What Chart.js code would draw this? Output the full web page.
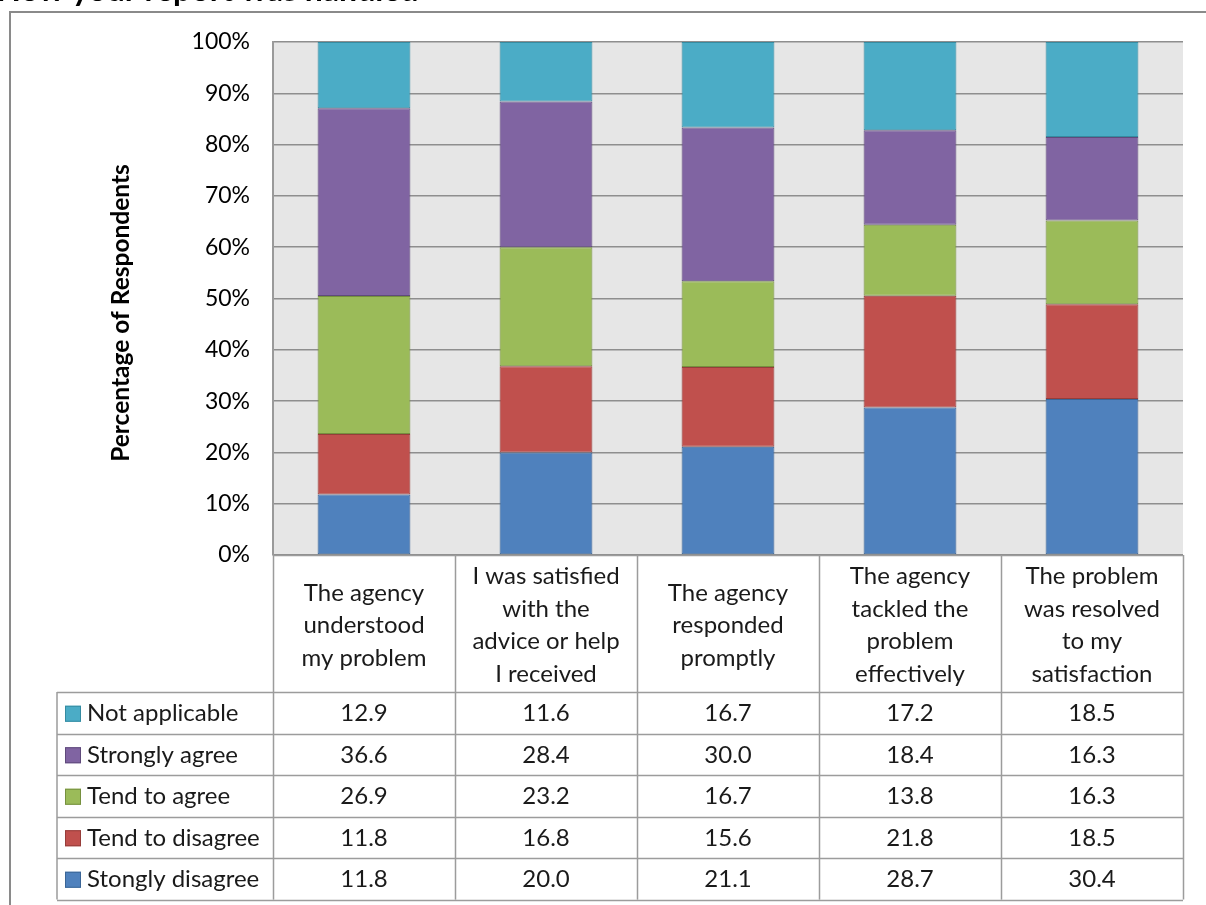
<!DOCTYPE html>
<html>
<head>
<meta charset="utf-8">
<script src="https://cdn.jsdelivr.net/npm/chart.js@4.4.0/dist/chart.umd.min.js"></script>
<style>
  html, body { margin: 0; padding: 0; background: #fff; }
  #wrap { width: 1206px; height: 905px; }
</style>
</head>
<body>
<div id="wrap"><canvas id="surveyChart" width="1206" height="905"></canvas></div>
<script>
// categories (lines of each wrapped label)
const categories = [
  ['The agency', 'understood', 'my problem'],
  ['I was satisfied', 'with the', 'advice or help', 'I received'],
  ['The agency', 'responded', 'promptly'],
  ['The agency', 'tackled the', 'problem', 'effectively'],
  ['The problem', 'was resolved', 'to my', 'satisfaction']
];

// series values, % of respondents
const stronglyDisagree = [11.8, 20.0, 21.1, 28.7, 30.4];
const tendToDisagree = [11.8, 16.8, 15.6, 21.8, 18.5];
const tendToAgree = [26.9, 23.2, 16.7, 13.8, 16.3];
const stronglyAgree = [36.6, 28.4, 30.0, 18.4, 16.3];
const notApplicable = [12.9, 11.6, 16.7, 17.2, 18.5];

const seriesNames = ['Stongly disagree', 'Tend to disagree', 'Tend to agree', 'Strongly agree', 'Not applicable'];
const seriesValues = [stronglyDisagree, tendToDisagree, tendToAgree, stronglyAgree, notApplicable];
const fillColors = ['#4F81BD', '#C0504D', '#9BBB59', '#8064A2', '#4BACC6'];
const edgeColors = ['#3A6596', '#963D3A', '#76903F', '#5F4A7B', '#358BA1'];

const yTickStep = 10;
const yAxisTitle = 'Percentage of Respondents';
const chartTitle = 'How your report was handled';

const FONT = 'Lato, "Open Sans", sans-serif';
const TEXT = '#1a1a1a';

// 100% stacked: each column scaled to its own total
const totals = categories.map((c, i) => seriesValues.reduce((s, arr) => s + arr[i], 0));

function makeDatasets() {
  return seriesNames.map((name, k) => ({
    label: name,
    data: seriesValues[k].map((v, i) => v / totals[i] * 100),
    backgroundColor: fillColors[k],
    borderColor: edgeColors[k],
    borderWidth: 1,
    borderSkipped: false,
    barPercentage: 0.51,
    categoryPercentage: 1
  }));
}

const plotBackground = {
  id: 'plotBackground',
  beforeDraw(chart) {
    const { ctx, chartArea: a } = chart;
    ctx.save();
    ctx.fillStyle = '#fff';
    ctx.fillRect(0, 0, chart.width, chart.height);
    ctx.fillStyle = '#e6e6e6';
    ctx.fillRect(a.left, a.top, a.right - a.left, a.bottom - a.top);
    ctx.restore();
  }
};

const dataTable = {
  id: 'dataTable',
  afterDraw(chart) {
    const { ctx, chartArea: a } = chart;
    const x = chart.scales.x;
    const half = (x.getPixelForValue(1) - x.getPixelForValue(0)) / 2;
    const headTop = a.bottom;
    const headBottom = 692;
    const rowH = 41.5;
    const legendLeft = 57;
    const rows = seriesNames.length;
    const tableBottom = headBottom + rows * rowH;

    ctx.save();

    // frame round the whole figure
    ctx.strokeStyle = '#8a8a8a';
    ctx.lineWidth = 2;
    ctx.beginPath();
    ctx.moveTo(chart.width + 2, 12);
    ctx.lineTo(10, 12);
    ctx.lineTo(10, chart.height + 2);
    ctx.stroke();

    // cut-off title at the very top
    ctx.fillStyle = '#000';
    ctx.font = 'bold 32px ' + FONT;
    ctx.textBaseline = 'alphabetic';
    ctx.textAlign = 'left';
    const lead = ctx.measureText('How ').width;
    ctx.fillText(chartTitle, 72 - lead, 1);

    // y axis title
    ctx.save();
    ctx.translate(121, 313);
    ctx.rotate(-Math.PI / 2);
    ctx.font = 'bold 24.5px ' + FONT;
    ctx.textAlign = 'center';
    ctx.textBaseline = 'middle';
    ctx.fillText(yAxisTitle, 0, 0);
    ctx.restore();

    // table grid
    ctx.strokeStyle = '#9c9c9c';
    ctx.lineWidth = 1.5;
    ctx.beginPath();
    for (let i = 0; i <= categories.length; i++) {
      const cx = Math.round(x.getPixelForValue(i) - half) + 0.5;
      ctx.moveTo(cx, headTop);
      ctx.lineTo(cx, tableBottom);
    }
    ctx.moveTo(legendLeft, headBottom);
    ctx.lineTo(legendLeft, tableBottom);
    for (let r = 0; r <= rows; r++) {
      const ry = Math.round(headBottom + r * rowH) + 0.5;
      ctx.moveTo(legendLeft, ry);
      ctx.lineTo(a.right, ry);
    }
    ctx.moveTo(a.left, headTop + 0.5);
    ctx.lineTo(a.right, headTop + 0.5);
    ctx.stroke();

    // category labels
    ctx.fillStyle = TEXT;
    ctx.font = '24px ' + FONT;
    ctx.textAlign = 'center';
    ctx.textBaseline = 'middle';
    const lineH = 32.5;
    const midHead = (headTop + headBottom) / 2 + 2;
    categories.forEach((lines, i) => {
      const cx = x.getPixelForValue(i);
      const y0 = midHead - (lines.length - 1) * lineH / 2;
      lines.forEach((t, j) => ctx.fillText(t, cx, y0 + j * lineH));
    });

    // rows: top row is the top of the stack
    for (let r = 0; r < rows; r++) {
      const k = rows - 1 - r;
      const cy = headBottom + r * rowH + rowH / 2 + 1;
      ctx.fillStyle = fillColors[k];
      ctx.fillRect(65, cy - 8, 16, 16);
      ctx.strokeStyle = edgeColors[k];
      ctx.lineWidth = 1;
      ctx.strokeRect(65.5, cy - 7.5, 15, 15);
      ctx.fillStyle = TEXT;
      ctx.textAlign = 'left';
      ctx.fillText(seriesNames[k], 87, cy);
      ctx.textAlign = 'center';
      seriesValues[k].forEach((v, i) => {
        ctx.fillText(v.toFixed(1), x.getPixelForValue(i), cy);
      });
    }

    ctx.restore();
  }
};

function initChart() {
  const ctx = document.getElementById('surveyChart');
  new Chart(ctx, {
    type: 'bar',
    data: {
      labels: categories.map(c => c.join(' ')),
      datasets: makeDatasets()
    },
    options: {
      responsive: false,
      animation: false,
      layout: { padding: { left: 100, right: 23, top: 42, bottom: 350 } },
      plugins: {
        legend: { display: false },
        tooltip: { enabled: false }
      },
      scales: {
        x: {
          stacked: true,
          grid: { display: false },
          border: { display: false },
          ticks: { display: false },
          afterFit: s => { s.height = 0; }
        },
        y: {
          stacked: true,
          min: 0,
          max: 100,
          ticks: {
            stepSize: yTickStep,
            callback: v => v + '%',
            padding: 23,
            color: '#000',
            font: { family: FONT, size: 23 }
          },
          grid: { color: '#8e8e8e', lineWidth: 1.5, drawTicks: false },
          border: { display: true, color: '#9a9a9a', width: 2 },
          afterFit: s => { s.width = 173; }
        }
      }
    },
    plugins: [plotBackground, dataTable]
  });
}

document.addEventListener('DOMContentLoaded', initChart);
</script>
</body>
</html>
